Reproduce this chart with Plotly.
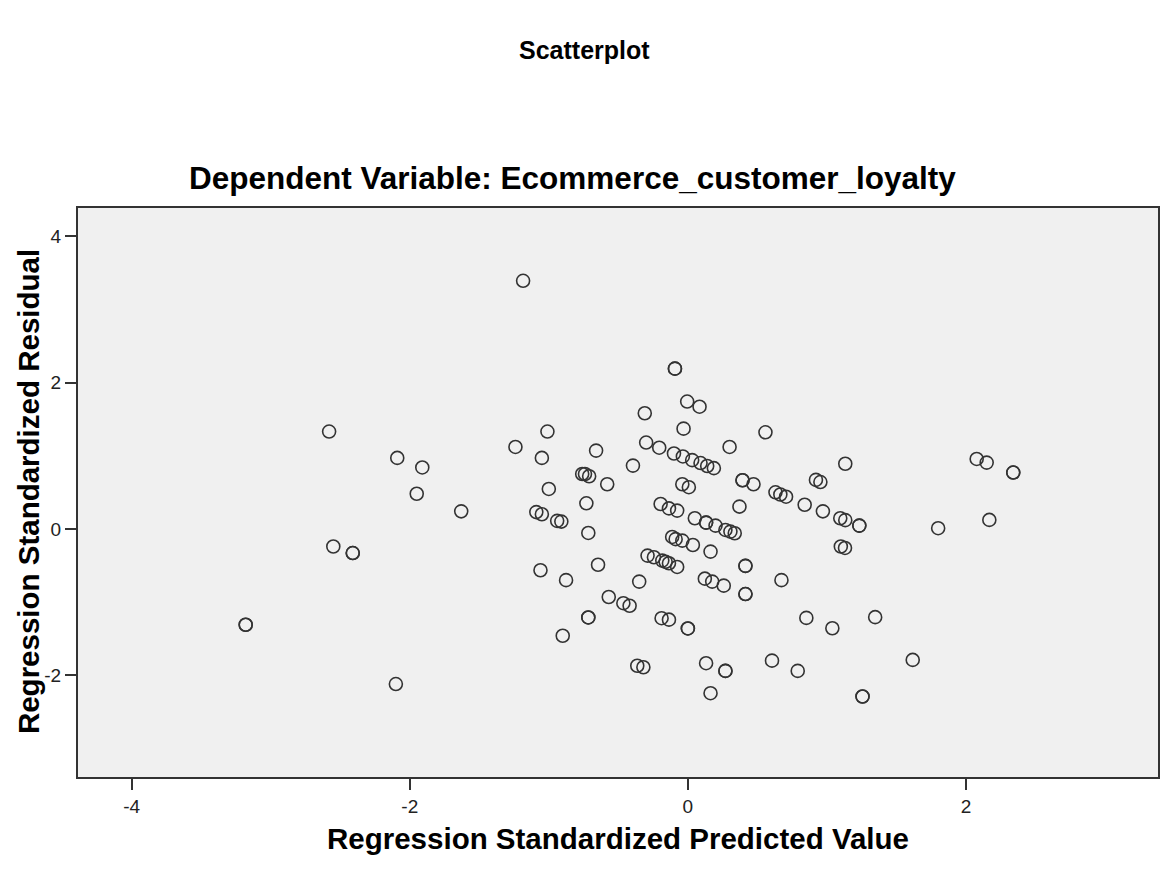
import plotly.graph_objects as go

# Regression Standardized Predicted Value (x) and Residual (y)
pred = [
    -3.18, -3.18, -2.58, -2.55, -2.41, -2.41, -2.10, -2.09, -1.91, -1.95,
    -1.63, -1.24, -1.185, -1.05, -1.01, -1.00, -1.09, -1.05, -0.94, -0.91,
    -1.06, -0.876, -0.90, -0.76, -0.74, -0.71, -0.66, -0.58, -0.73, -0.716,
    -0.646, -0.569, -0.464, -0.419, -0.716, -0.716, -0.395, -0.31, -0.35, -0.364,
    -0.32, -0.093, -0.093, -0.005, 0.084, -0.031, 0.558, -0.30, -0.206, -0.10,
    -0.036, 0.031, 0.091, 0.139, 0.187, 0.30, -0.04, 0.007, 0.393, 0.393,
    0.472, 0.921, 0.953, 1.132, 0.63, 0.665, 0.706, 0.84, 0.971, 1.096,
    1.132, 1.233, 1.233, 1.10, 1.13, 0.371, -0.196, -0.136, -0.077, 0.05,
    0.131, 0.131, 0.199, 0.27, 0.306, 0.337, -0.113, -0.088, -0.04, 0.036,
    0.163, -0.29, -0.244, -0.184, -0.16, -0.136, -0.077, 0.414, 0.414, 0.673,
    0.122, 0.175, 0.258, 0.414, 0.414, -0.189, -0.136, 0.0, 0.0, 0.852,
    1.039, 1.347, 0.131, 0.27, 0.27, 0.605, 0.79, 0.163, 1.256, 1.256,
    2.077, 2.149, 2.34, 2.34, 1.80, 2.168, 1.617,
]
resid = [
    -1.31, -1.31, 1.33, -0.24, -0.33, -0.33, -2.12, 0.97, 0.84, 0.48,
    0.24, 1.12, 3.39, 0.97, 1.33, 0.546, 0.23, 0.20, 0.11, 0.10,
    -0.565, -0.70, -1.46, 0.75, 0.75, 0.72, 1.07, 0.61, 0.35, -0.055,
    -0.49, -0.93, -1.015, -1.05, -1.21, -1.21, 0.865, 1.58, -0.72, -1.87,
    -1.89, 2.19, 2.19, 1.74, 1.67, 1.37, 1.32, 1.18, 1.11, 1.03,
    0.99, 0.94, 0.90, 0.86, 0.83, 1.12, 0.61, 0.57, 0.665, 0.665,
    0.61, 0.67, 0.64, 0.89, 0.50, 0.47, 0.44, 0.33, 0.24, 0.146,
    0.12, 0.045, 0.045, -0.24, -0.26, 0.305, 0.34, 0.28, 0.25, 0.146,
    0.086, 0.086, 0.045, -0.014, -0.037, -0.059, -0.11, -0.14, -0.16, -0.22,
    -0.31, -0.365, -0.387, -0.433, -0.45, -0.469, -0.52, -0.505, -0.505, -0.70,
    -0.68, -0.72, -0.775, -0.89, -0.89, -1.22, -1.24, -1.36, -1.36, -1.216,
    -1.357, -1.206, -1.835, -1.94, -1.94, -1.80, -1.94, -2.245, -2.29, -2.29,
    0.956, 0.906, 0.77, 0.77, 0.01, 0.123, -1.79,
]

x_ticks = [-4, -2, 0, 2]
x_tick_labels = ["-4", "-2", "0", "2"]
y_ticks = [-2, 0, 2, 4]
y_tick_labels = ["-2", "0", "2", "4"]

title_main = "Scatterplot"
title_sub = "Dependent Variable: Ecommerce_customer_loyalty"
x_title = "Regression Standardized Predicted Value"
y_title = "Regression Standardized Residual"

FONT = "Liberation Sans, Arial, sans-serif"
INK = "#333333"

W, H = 1162, 869
L, R, T, B = 78, 2, 208, 92
PW, PH = W - L - R, H - T - B


def px_x(px):
    return (px - L) / PW


def px_y(py):
    return (H - B - py) / PH


fig = go.Figure(
    go.Scatter(
        x=pred, y=resid, mode="markers",
        marker=dict(symbol="circle-open", size=13, color=INK, line=dict(width=1.6, color=INK)),
        hoverinfo="x+y",
    )
)

axis_common = dict(
    showgrid=False, zeroline=False, showline=True, mirror=True,
    linecolor=INK, linewidth=2, ticks="outside", ticklen=11, tickwidth=2,
    tickcolor=INK, tickfont=dict(family=FONT, size=19, color="#222222"),
)
fig.update_xaxes(range=[-4.386, 3.381], tickvals=x_ticks, ticktext=x_tick_labels, **axis_common)
fig.update_yaxes(range=[-3.39, 4.385], tickvals=y_ticks, ticktext=y_tick_labels, **axis_common)

fig.update_layout(
    width=W, height=H,
    margin=dict(l=L, r=R, t=T, b=B),
    plot_bgcolor="#F0F0F0", paper_bgcolor="white",
    showlegend=False,
    font=dict(family=FONT, color="#000000"),
    annotations=[
        dict(text="<b>%s</b>" % title_main, x=px_x(585), y=px_y(50),
             font=dict(size=25)),
        dict(text="<b>%s</b>" % title_sub, x=px_x(573), y=px_y(178),
             font=dict(size=31.5)),
        dict(text="<b>%s</b>" % x_title, x=px_x(619), y=px_y(838),
             font=dict(size=29.5)),
        dict(text="<b>%s</b>" % y_title, x=px_x(28), y=px_y(492),
             textangle=-90, font=dict(size=29.5)),
    ],
)
fig.update_annotations(xref="paper", yref="paper", showarrow=False,
                       xanchor="center", yanchor="middle")

fig.write_html("out.html")
